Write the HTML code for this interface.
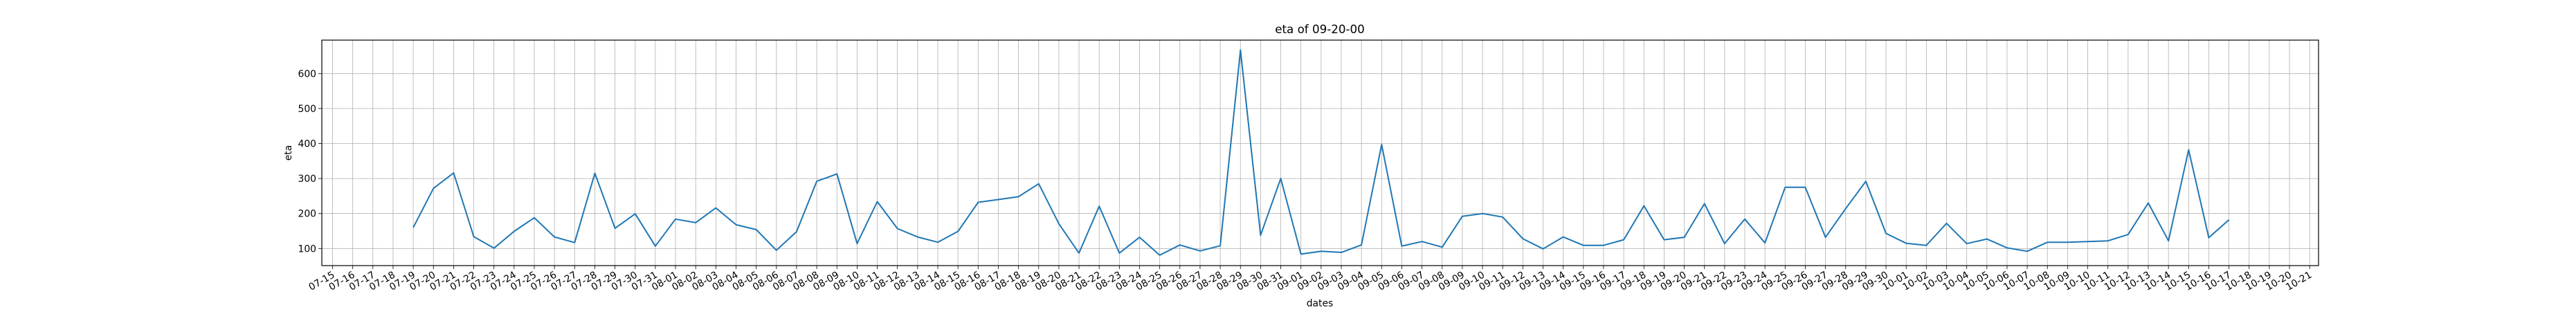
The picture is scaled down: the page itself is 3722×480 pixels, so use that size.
<!DOCTYPE html>
<html><head><meta charset="utf-8"><style>
html,body{margin:0;padding:0;background:#fff;}
svg{display:block;font-family:"DejaVu Sans","Liberation Sans",sans-serif;}
</style></head><body>
<svg id="chart" width="3722" height="480" viewBox="0 0 3722 480" xmlns="http://www.w3.org/2000/svg">
<rect x="0" y="0" width="3722" height="480" fill="#fff"/>
<g id="grid"></g>
<g id="series"></g>
<rect x="465" y="58" width="2885" height="326" fill="none" stroke="#000" stroke-width="1.2"/>
<g id="ticks"></g>
<text x="1907" y="48" font-size="16.7" text-anchor="middle">eta of 09-20-00</text>
<text x="1907" y="443" font-size="13.9" text-anchor="middle">dates</text>
<text x="0" y="0" font-size="13.9" text-anchor="middle" transform="translate(421,221) rotate(-90)">eta</text>
</svg>
<script>
const startDay = 4; // first data point offset in days from 07-15 (07-19)
const values = [160,272,316,134,101,149,188,133,117,315,158,199,107,184,174,216,168,154,95,148,292,313,114,234,
157,133,118,149,232,240,248,285,171,87,221,87,132,81,110,93,108,667,138,300,84,92,89,110,397,107,120,104,192,200,
190,128,99,133,109,109,125,222,125,132,228,114,184,116,275,275,132,214,292,143,115,109,172,114,127,102,92,118,118,120,
122,140,230,122,382,131,182];
const yTicks = [100,200,300,400,500,600];
const tickMonths = [[7,15,31],[8,1,31],[9,1,30],[10,1,21]];

const NS="http://www.w3.org/2000/svg";
const L=465,R=3350,T=58,B=384;
function xs(d){return 480.5+d*29.15;}
function ys(v){return 409.9-v*0.506;}
function el(tag,attrs,parent){const e=document.createElementNS(NS,tag);for(const k in attrs)e.setAttribute(k,attrs[k]);parent.appendChild(e);return e;}
const grid=document.getElementById('grid'),ticks=document.getElementById('ticks'),series=document.getElementById('series');
function pad(n){return (n<10?'0':'')+n;}
const tickLabels=[];
tickMonths.forEach(([m,s,e])=>{for(let d=s;d<=e;d++)tickLabels.push(pad(m)+'-'+pad(d));});
tickLabels.forEach((lab,i)=>{
  const x=xs(i);
  const g=el('line',{x1:x,x2:x,y1:T,y2:B,stroke:'#b0b0b0','stroke-width':0.8},grid);
  
  
  const t=el('line',{x1:x,x2:x,y1:B,y2:B+5,stroke:'#000','stroke-width':0.8},ticks);
  
  
  const tx=el('text',{x:0,y:0,'font-size':13.9,'text-anchor':'end',transform:`translate(${x+4},${B+16}) rotate(-30)`},ticks);
  tx.textContent=lab;
  
  
});
yTicks.forEach(v=>{
  const y=ys(v);
  const g=el('line',{x1:L,x2:R,y1:y,y2:y,stroke:'#b0b0b0','stroke-width':0.8},grid);
  
  
  const t=el('line',{x1:L-5,x2:L,y1:y,y2:y,stroke:'#000','stroke-width':0.8},ticks);
  
  
  const tx=el('text',{x:L-8,y:y+5,'font-size':13.9,'text-anchor':'end'},ticks);
  tx.textContent=v;
  
  
});
const pts=values.map((v,i)=>xs(startDay+i).toFixed(1)+','+ys(v).toFixed(1)).join(' ');
const line=el('polyline',{points:pts,fill:'none',stroke:'#1f77b4','stroke-width':2,'stroke-linejoin':'round'},series);


</script>
</body></html>
